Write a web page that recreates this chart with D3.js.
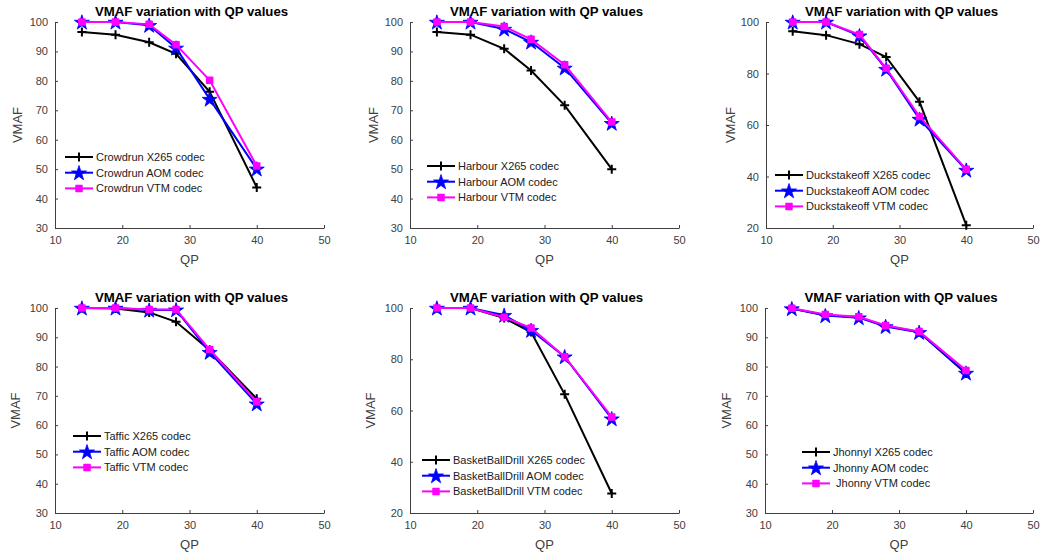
<!DOCTYPE html>
<html>
<head>
<meta charset="utf-8">
<script src="https://d3js.org/d3.v7.min.js"></script>
<style>
  body { margin: 0; background: #fff; }
  text { font-family: "Liberation Sans", Arial, sans-serif; }
</style>
</head>
<body>
<script>
"use strict";

// QP values shared by every panel
var qp = [14, 19, 24, 28, 33, 40];
var xTicks = [10, 20, 30, 40, 50];
var codecs = ["X265", "AOM", "VTM"];

// VMAF, one array per sequence and codec
var crowdrunX265 = [96.6, 95.7, 93.1, 89.2, 76.3, 43.8];
var crowdrunAOM  = [100, 100, 98.9, 91.2, 73.8, 50.1];
var crowdrunVTM  = [100, 100, 99.2, 92.3, 80.2, 51.1];

var harbourX265 = [96.6, 95.7, 90.9, 83.5, 71.7, 50.0];
var harbourAOM  = [100, 100, 97.6, 93.2, 84.4, 65.6];
var harbourVTM  = [100, 100, 98.5, 94.1, 85.5, 66.0];

var duckX265 = [96.4, 94.9, 91.4, 86.4, 69.0, 21.1];
var duckAOM  = [100, 100, 94.7, 81.7, 62.3, 42.5];
var duckVTM  = [100, 100, 95.1, 82.0, 63.3, 42.8];

var tafficX265 = [100, 99.8, 98.5, 95.3, 85.6, 69.0];
var tafficAOM  = [100, 100, 99.3, 99.4, 84.9, 67.3];
var tafficVTM  = [100, 100, 99.5, 99.5, 85.8, 68.0];

var basketX265 = [100, 100, 96.1, 90.6, 66.3, 27.6];
var basketAOM  = [100, 100, 97.2, 91.3, 81.0, 56.8];
var basketVTM  = [100, 100, 96.4, 92.2, 81.0, 57.5];

var jhonnyX265 = [99.8, 97.6, 96.8, 93.9, 91.8, 77.6];
var jhonnyAOM  = [99.8, 97.4, 96.7, 93.7, 91.7, 77.8];
var jhonnyVTM  = [99.9, 97.8, 97.0, 94.0, 92.0, 78.7];

var legendNames = [
  ["Crowdrun X265 codec", "Crowdrun AOM codec", "Crowdrun VTM codec"],
  ["Harbour X265 codec", "Harbour AOM codec", "Harbour VTM codec"],
  ["Duckstakeoff X265 codec", "Duckstakeoff AOM codec", "Duckstakeoff VTM codec"],
  ["Taffic X265 codec", "Taffic AOM codec", "Taffic VTM codec"],
  ["BasketBallDrill X265 codec", "BasketBallDrill AOM codec", "BasketBallDrill VTM codec"],
  ["JhonnyI X265 codec", "Jhonny AOM codec", " Jhonny VTM codec"]
];
var seriesData = [
  [crowdrunX265, crowdrunAOM, crowdrunVTM],
  [harbourX265, harbourAOM, harbourVTM],
  [duckX265, duckAOM, duckVTM],
  [tafficX265, tafficAOM, tafficVTM],
  [basketX265, basketAOM, basketVTM],
  [jhonnyX265, jhonnyAOM, jhonnyVTM]
];
var yTicksA = [30, 40, 50, 60, 70, 80, 90, 100];
var yTicksB = [20, 40, 60, 80, 100];
var yTicksList = [yTicksA, yTicksA, yTicksB, yTicksA, yTicksB, yTicksA];

// layout of each panel: plot box and legend anchor
var layout = [
  { x0: 55,  x1: 324,  y0: 22,  y1: 228, lx: 65,  ly: 157, yl: 17 },
  { x0: 410, x1: 679,  y0: 22,  y1: 228, lx: 427, ly: 166, yl: 373 },
  { x0: 766, x1: 1033, y0: 22,  y1: 228, lx: 775, ly: 175, yl: 730 },
  { x0: 55,  x1: 324,  y0: 308, y1: 513, lx: 73,  ly: 436, yl: 15 },
  { x0: 410, x1: 679,  y0: 308, y1: 513, lx: 422, ly: 460, yl: 370 },
  { x0: 765, x1: 1033, y0: 308, y1: 513, lx: 802, ly: 452, yl: 726 }
];

var colors = ["#000000", "#0000ff", "#ff00ff"];
var plusPath = "M-4.5,0H4.5M0,-4.5V4.5";
var starPath = d3.symbol().type(d3.symbolStar).size(70)();
var squarePath = d3.symbol().type(d3.symbolSquare).size(36)();

var svg = d3.select("body").append("svg")
  .attr("width", 1041)
  .attr("height", 556);

function drawMarker(g, i, x, y) {
  if (i === 0) {
    g.append("path").attr("d", plusPath)
      .attr("transform", "translate(" + x + "," + y + ")")
      .attr("stroke", colors[0]).attr("stroke-width", 2).attr("fill", "none");
  } else if (i === 1) {
    g.append("path").attr("d", starPath)
      .attr("transform", "translate(" + x + "," + (y + 0.7) + ")")
      .attr("fill", colors[1]).attr("stroke", colors[1]).attr("stroke-width", 0.8);
  } else {
    g.append("path").attr("d", squarePath)
      .attr("transform", "translate(" + x + "," + y + ")")
      .attr("fill", colors[2]).attr("stroke", colors[2]).attr("stroke-width", 1.5)
      .attr("stroke-linejoin", "round");
  }
}

layout.forEach(function (L, p) {
  var yT = yTicksList[p];
  var x = d3.scaleLinear().domain([10, 50]).range([L.x0, L.x1]);
  var y = d3.scaleLinear().domain([yT[0], 100]).range([L.y1, L.y0]);
  var g = svg.append("g");

  var xAxis = g.append("g")
    .attr("transform", "translate(0," + L.y1 + ")")
    .call(d3.axisBottom(x).tickValues(xTicks).tickSizeInner(-3).tickSizeOuter(0).tickPadding(8));
  var yAxis = g.append("g")
    .attr("transform", "translate(" + L.x0 + ",0)")
    .call(d3.axisLeft(y).tickValues(yT).tickSizeInner(-3).tickSizeOuter(0).tickPadding(7));
  [xAxis, yAxis].forEach(function (a) {
    a.select(".domain").attr("stroke", "#404040");
    a.selectAll(".tick line").attr("stroke", "#404040");
    a.selectAll(".tick text").attr("fill", "#404040")
      .style("font-size", "11px");
  });

  // title and axis labels
  g.append("text")
    .attr("x", (L.x0 + L.x1) / 2 + 2).attr("y", L.y0 - 6)
    .attr("text-anchor", "middle")
    .style("font-size", "13.2px").style("font-weight", "bold")
    .text("VMAF variation with QP values");
  g.append("text")
    .attr("x", (L.x0 + L.x1) / 2).attr("y", L.y1 + 36)
    .attr("text-anchor", "middle").attr("fill", "#404040")
    .style("font-size", "13px")
    .text("QP");
  g.append("text")
    .attr("transform", "translate(" + (L.yl + 5) + "," + ((L.y0 + L.y1) / 2) + ") rotate(-90)")
    .attr("text-anchor", "middle").attr("fill", "#404040")
    .style("font-size", "13px")
    .text("VMAF");

  var line = d3.line()
    .x(function (d, i) { return x(qp[i]); })
    .y(function (d) { return y(d); });

  seriesData[p].forEach(function (vals, i) {
    g.append("path")
      .datum(vals)
      .attr("d", line)
      .attr("fill", "none")
      .attr("stroke", colors[i])
      .attr("stroke-width", 2);
    vals.forEach(function (v, k) {
      drawMarker(g, i, x(qp[k]), y(v));
    });
  });

  // legend
  codecs.forEach(function (c, i) {
    var ly = L.ly + i * 15.7;
    g.append("line")
      .attr("x1", L.lx).attr("x2", L.lx + 28)
      .attr("y1", ly).attr("y2", ly)
      .attr("stroke", colors[i]).attr("stroke-width", 2);
    drawMarker(g, i, L.lx + 14, ly);
    g.append("text")
      .attr("x", L.lx + 31).attr("y", ly + 4)
      .attr("fill", "#202020")
      .style("font-size", "11px")
      .style("white-space", "pre")
      .text(legendNames[p][i]);
  });
});
</script>
</body>
</html>
